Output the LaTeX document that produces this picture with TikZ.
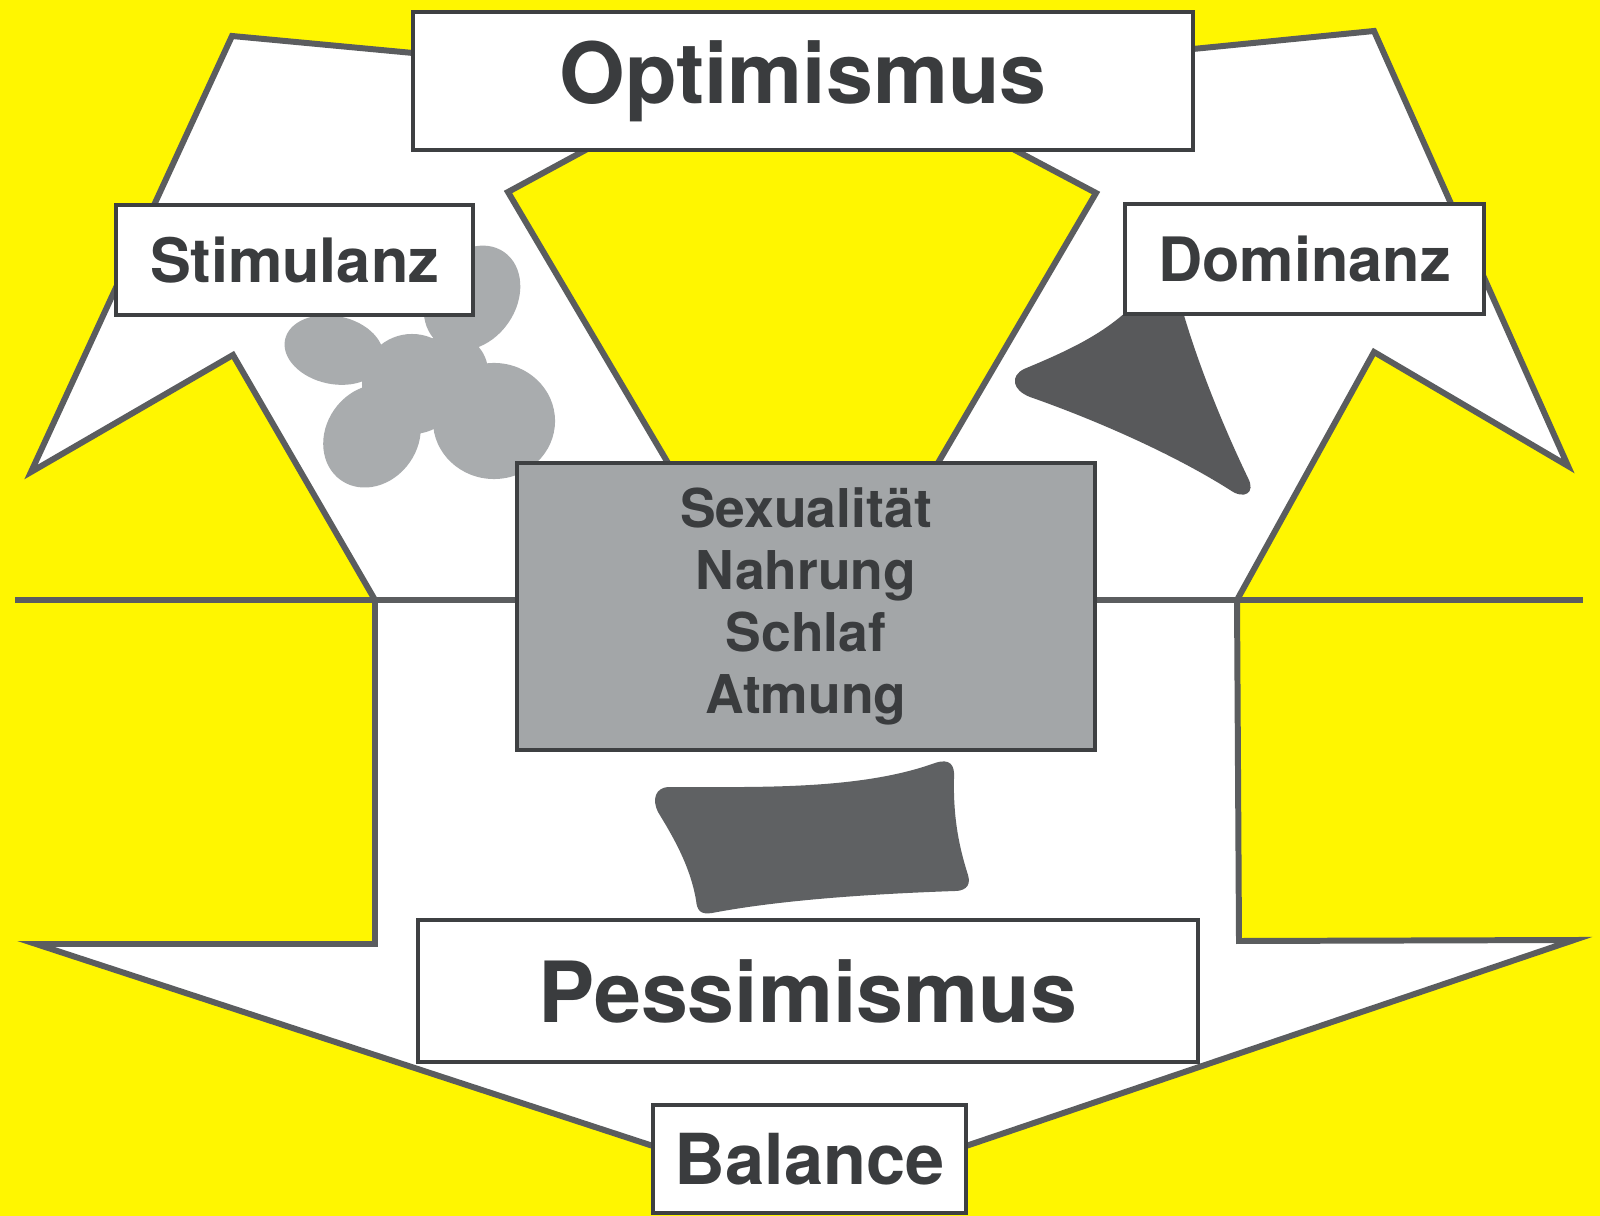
\documentclass[tikz,border=0pt]{standalone}
\usepackage{fontspec}
\setsansfont{TeX Gyre Heros}
\usepackage{tikz}
\usetikzlibrary{positioning}
\definecolor{bgyellow}{HTML}{FFF600}
\definecolor{edgegray}{HTML}{5B5D5F}
\definecolor{boxline}{HTML}{3E4042}
\definecolor{txtgray}{HTML}{3A3C3E}
\definecolor{coregray}{HTML}{A3A6A8}
\definecolor{clovergray}{HTML}{A9ACAE}
\definecolor{darkblob}{HTML}{58595B}
\definecolor{pillowgray}{HTML}{5F6163}
\tikzset{
    outline/.style ={draw=edgegray, line width=1.7pt},
    tagbox/.style ={rectangle, draw=boxline, line width=1.1pt, fill=white,
                    text=txtgray, inner sep=0pt},
    headbox/.style ={tagbox, font=\sffamily\bfseries\fontsize{24}{28}\selectfont},
    sidebox/.style ={tagbox, font=\sffamily\bfseries\fontsize{17.4}{21}\selectfont},
    basebox/.style ={tagbox, font=\sffamily\bfseries\fontsize{20}{24}\selectfont},
    corebox/.style ={tagbox, fill=coregray, align=center,
                     font=\sffamily\bfseries\fontsize{15.2}{17.6}\selectfont}
    }

\begin{document}
\begin{tikzpicture}[x=0.01cm, y=-0.01cm]
    \useasboundingbox (0,0) rectangle (1600,1216);
    \fill[bgyellow] (0,0) rectangle (1600,1216);

    % white body with both arms
    \path[outline, fill=white] (232,36) -- (413,53) -- (1193,49) -- (1374,31)
        -- (1568,466) -- (1374,352) -- (1237,600) -- (1239,941) -- (1574,940)
        -- (966,1146) -- (653,1146) -- (36,944) -- (375,944) -- (375,600)
        -- (233,355) -- (31,472) -- cycle;
    \path[outline, fill=bgyellow] (604,140) -- (508,192) -- (678,480)
        -- (928,480) -- (1096,193) -- (996,140) -- cycle;
    \path[outline] (15,600) -- (1583,600);

    % blobs
    \begin{scope}[fill=clovergray]
        \fill (334,350) ellipse [x radius=0.50cm, y radius=0.34cm, rotate=-12];
        \fill (472,298) ellipse [x radius=0.56cm, y radius=0.44cm, rotate=55];
        \fill (372,436) ellipse [x radius=0.54cm, y radius=0.46cm, rotate=55];
        \fill (494,421) ellipse [x radius=0.61cm, y radius=0.58cm];
        \fill (412,384) circle [radius=0.50cm];
        \fill (450,372) circle [radius=0.38cm];
    \end{scope}
    \fill[darkblob] (1126,312) -- (1183,312) .. controls (1200,370) and (1225,430) .. (1248,478)
        .. controls (1256,493) and (1244,500) .. (1230,490)
        .. controls (1170,452) and (1090,418) .. (1030,397)
        .. controls (1012,390) and (1010,376) .. (1024,369)
        .. controls (1070,350) and (1100,335) .. cycle;
    \fill[pillowgray] (668,787) .. controls (760,787) and (860,790) .. (935,763)
        .. controls (950,758) and (955,765) .. (954,778)
        .. controls (953,820) and (960,850) .. (968,875)
        .. controls (972,888) and (962,891) .. (955,891)
        .. controls (870,894) and (780,900) .. (712,913)
        .. controls (700,915) and (697,910) .. (696,900)
        .. controls (690,865) and (672,835) .. (658,812)
        .. controls (652,800) and (655,788) .. cycle;

    \node (optim) at (803,81) [headbox, minimum width=7.8cm, minimum height=1.38cm] {Optimismus};
    \node (stim) at (294.5,260) [sidebox, minimum width=3.57cm, minimum height=1.10cm] {Stimulanz};
    \node (domin) at (1304.5,259) [sidebox, minimum width=3.59cm, minimum height=1.10cm] {Dominanz};
    \node (core) at (806,606.5) [corebox, minimum width=5.78cm, minimum height=2.87cm]
        {Sexualität\\Nahrung\\Schlaf\\Atmung};
    \node (pessim) at (808,991) [headbox, minimum width=7.8cm, minimum height=1.42cm] {Pessimismus};
    \node (bal) at (809.5,1159) [basebox, minimum width=3.13cm, minimum height=1.08cm] {Balance};
\end{tikzpicture}
\end{document}
